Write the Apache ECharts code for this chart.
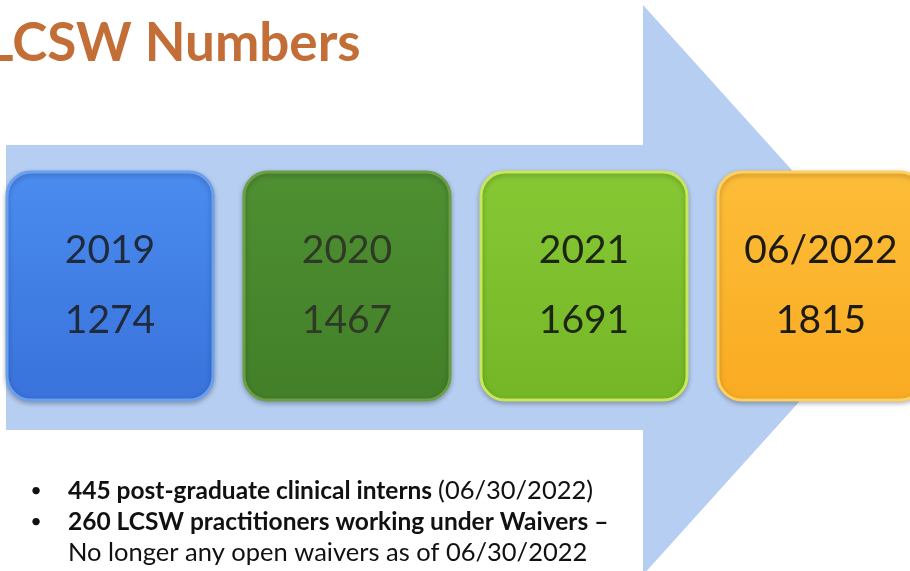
<!DOCTYPE html>
<html>
<head>
<meta charset="utf-8">
<script src="https://cdn.jsdelivr.net/npm/echarts@6/dist/echarts.min.js"></script>
<style>
  html, body { margin: 0; padding: 0; background: #fff; }
  #main { width: 910px; height: 571px; }
</style>
</head>
<body>
<div id="main"></div>
<script type="text/javascript">
    // data
    var years = ['2019', '2020', '2021', '06/2022'];
    var counts = [1274, 1467, 1691, 1815];
    var notes = [
        ['445 post-graduate clinical interns', '(06/30/2022)'],
        ['260 LCSW practitioners working under Waivers \u2013', ''],
        ['', 'No longer any open waivers as of 06/30/2022']
    ];

    // box palettes (top, bottom, edge, text)
    var palette = [
        ['#4b8cf0', '#3872da', '#6a9ff0', '#1f2a3c'],
        ['#4f9032', '#427f28', '#6a9f48', '#2e3a26'],
        ['#86c834', '#74b626', '#c8e85a', '#1c2612'],
        ['#fdbd38', '#f9ab22', '#ffd060', '#1c1a14']
    ];

    var chart = echarts.init(document.getElementById('main'));

    var noteGraphics = [];
    notes.forEach(function (n, i) {
        var y = 491 + i * 31;
        if (i < 2) {
            noteGraphics.push({
                type: 'text', x: 36, y: y, z: 5,
                style: { text: '\u2022', font: '20px Lato', fill: '#111', align: 'center', verticalAlign: 'middle' }
            });
        }
        var txt = '';
        if (n[0]) txt += '{b|' + n[0] + (n[1] ? ' ' : '') + '}';
        if (n[1]) txt += '{n|' + n[1] + '}';
        noteGraphics.push({
            type: 'text', x: 68, y: y, z: 5,
            style: {
                text: txt,
                verticalAlign: 'middle',
                rich: {
                    b: { font: 'bold 24.5px Lato', fill: '#111' },
                    n: { font: '25.5px Lato', fill: '#111' }
                }
            }
        });
    });

    var option = {
        animation: false,
        grid: { left: 110, right: 89, top: 172, bottom: 171 },
        xAxis: { type: 'value', min: 0, max: 3, show: false },
        yAxis: { type: 'value', min: -1, max: 1, show: false },
        graphic: [
            {
                type: 'polygon', z: 0,
                shape: { points: [[6, 145], [643, 145], [643, 5], [900, 290], [643, 575], [643, 430], [6, 430]] },
                style: { fill: '#b6cef1' }
            },
            {
                type: 'text', x: -14, y: 44, z: 5,
                style: { text: 'LCSW Numbers', font: 'bold 53px Lato', fill: '#c36e37', verticalAlign: 'middle' }
            }
        ].concat(noteGraphics),
        series: [
            {
                type: 'custom',
                z: 3,
                data: counts.map(function (v, i) { return [i, 0, v]; }),
                renderItem: function (params, api) {
                    var i = params.dataIndex;
                    var c = api.coord([api.value(0), api.value(1)]);
                    var p = palette[i];
                    return {
                        type: 'group',
                        children: [
                            {
                                type: 'rect',
                                shape: { x: c[0] - 103, y: c[1] - 114, width: 206, height: 228, r: 24 },
                                style: {
                                    fill: new echarts.graphic.LinearGradient(0, 0, 0, 1, [
                                        { offset: 0, color: p[0] },
                                        { offset: 1, color: p[1] }
                                    ]),
                                    stroke: p[2], lineWidth: 3,
                                    shadowBlur: 5, shadowColor: 'rgba(0,0,0,0.25)', shadowOffsetY: 2
                                }
                            },
                            {
                                type: 'text',
                                style: {
                                    text: years[i], x: c[0], y: c[1] - 36,
                                    align: 'center', verticalAlign: 'middle',
                                    font: '39px Lato', fill: p[3]
                                }
                            },
                            {
                                type: 'text',
                                style: {
                                    text: String(api.value(2)), x: c[0], y: c[1] + 34,
                                    align: 'center', verticalAlign: 'middle',
                                    font: '39px Lato', fill: p[3]
                                }
                            }
                        ]
                    };
                }
            }
        ]
    };

    chart.setOption(option);
</script>
</body>
</html>
